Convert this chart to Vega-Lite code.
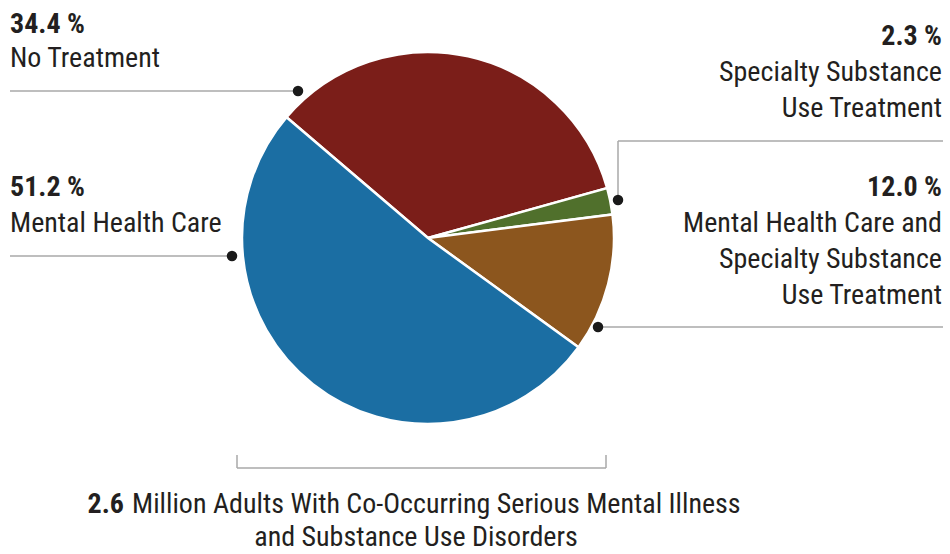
{
  "$schema": "https://vega.github.io/schema/vega-lite/v6.json",
  "width": 950,
  "height": 554,
  "padding": 0,
  "autosize": {"type": "none"},
  "background": "white",
  "data": {"values": [{}]},
  "config": {"view": {"stroke": null}, "text": {"font": "Roboto Condensed, Liberation Sans Narrow, Roboto", "fontSize": 28, "fill": "#231f20"}},
  "layer": [
    {
      "data": {"values": [
        {"category": "No Treatment", "pct": 34.4, "order": 1},
        {"category": "Specialty Substance Use Treatment", "pct": 2.3, "order": 2},
        {"category": "Mental Health Care and Specialty Substance Use Treatment", "pct": 12.0, "order": 3},
        {"category": "Mental Health Care", "pct": 51.2, "order": 4}
      ]},
      "mark": {"type": "arc", "outerRadius": 186, "stroke": "white", "strokeWidth": 2.5},
      "encoding": {
        "x": {"datum": 428, "type": "quantitative", "scale": {"domain": [0, 950], "nice": false, "zero": false}, "axis": null},
        "y": {"datum": 238, "type": "quantitative", "scale": {"domain": [0, 554], "nice": false, "zero": false, "reverse": true}, "axis": null},
        "theta": {"field": "pct", "type": "quantitative", "stack": true, "scale": {"range": [-0.864, 5.419]}},
        "order": {"field": "order", "type": "ordinal"},
        "color": {"field": "category", "type": "nominal", "legend": null,
          "scale": {"domain": ["No Treatment", "Specialty Substance Use Treatment", "Mental Health Care and Specialty Substance Use Treatment", "Mental Health Care"],
                    "range": ["#7b1e19", "#50702c", "#8c561e", "#1b6ea3"]}}
      }
    },
    {"mark": {"type": "rule", "color": "#a8a8a8", "strokeWidth": 1.5}, "encoding": {"x": {"datum": 10}, "x2": {"datum": 298}, "y": {"datum": 91}}},
    {"mark": {"type": "rule", "color": "#a8a8a8", "strokeWidth": 1.5}, "encoding": {"x": {"datum": 10}, "x2": {"datum": 232}, "y": {"datum": 256}}},
    {"mark": {"type": "rule", "color": "#a8a8a8", "strokeWidth": 1.5}, "encoding": {"x": {"datum": 618}, "y": {"datum": 141}, "y2": {"datum": 200}}},
    {"mark": {"type": "rule", "color": "#a8a8a8", "strokeWidth": 1.5}, "encoding": {"x": {"datum": 618}, "x2": {"datum": 943}, "y": {"datum": 141}}},
    {"mark": {"type": "rule", "color": "#a8a8a8", "strokeWidth": 1.5}, "encoding": {"x": {"datum": 598}, "x2": {"datum": 943}, "y": {"datum": 327}}},
    {"mark": {"type": "rule", "color": "#a8a8a8", "strokeWidth": 1.5}, "encoding": {"x": {"datum": 237}, "y": {"datum": 455}, "y2": {"datum": 468}}},
    {"mark": {"type": "rule", "color": "#a8a8a8", "strokeWidth": 1.5}, "encoding": {"x": {"datum": 237}, "x2": {"datum": 606}, "y": {"datum": 468}}},
    {"mark": {"type": "rule", "color": "#a8a8a8", "strokeWidth": 1.5}, "encoding": {"x": {"datum": 606}, "y": {"datum": 455}, "y2": {"datum": 468}}},
    {"mark": {"type": "point", "filled": true, "color": "#1a1a1a", "size": 110, "opacity": 1}, "encoding": {"x": {"datum": 298}, "y": {"datum": 91}}},
    {"mark": {"type": "point", "filled": true, "color": "#1a1a1a", "size": 110, "opacity": 1}, "encoding": {"x": {"datum": 232}, "y": {"datum": 256}}},
    {"mark": {"type": "point", "filled": true, "color": "#1a1a1a", "size": 110, "opacity": 1}, "encoding": {"x": {"datum": 618}, "y": {"datum": 200}}},
    {"mark": {"type": "point", "filled": true, "color": "#1a1a1a", "size": 110, "opacity": 1}, "encoding": {"x": {"datum": 598}, "y": {"datum": 327}}},
    {"mark": {"type": "text", "align": "left", "baseline": "alphabetic", "fontWeight": "bold"}, "encoding": {"x": {"datum": 10}, "y": {"datum": 33}, "text": {"value": "34.4 %"}}},
    {"mark": {"type": "text", "align": "left", "baseline": "alphabetic"}, "encoding": {"x": {"datum": 10}, "y": {"datum": 67}, "text": {"value": "No Treatment"}}},
    {"mark": {"type": "text", "align": "left", "baseline": "alphabetic", "fontWeight": "bold"}, "encoding": {"x": {"datum": 10}, "y": {"datum": 196}, "text": {"value": "51.2 %"}}},
    {"mark": {"type": "text", "align": "left", "baseline": "alphabetic"}, "encoding": {"x": {"datum": 10}, "y": {"datum": 232}, "text": {"value": "Mental Health Care"}}},
    {"mark": {"type": "text", "align": "right", "baseline": "alphabetic", "fontWeight": "bold"}, "encoding": {"x": {"datum": 942}, "y": {"datum": 45}, "text": {"value": "2.3 %"}}},
    {"mark": {"type": "text", "align": "right", "baseline": "alphabetic", "lineHeight": 36}, "encoding": {"x": {"datum": 942}, "y": {"datum": 81}, "text": {"value": ["Specialty Substance", "Use Treatment"]}}},
    {"mark": {"type": "text", "align": "right", "baseline": "alphabetic", "fontWeight": "bold"}, "encoding": {"x": {"datum": 942}, "y": {"datum": 196}, "text": {"value": "12.0 %"}}},
    {"mark": {"type": "text", "align": "right", "baseline": "alphabetic", "lineHeight": 36}, "encoding": {"x": {"datum": 942}, "y": {"datum": 232}, "text": {"value": ["Mental Health Care and", "Specialty Substance", "Use Treatment"]}}},
    {"mark": {"type": "text", "align": "right", "baseline": "alphabetic", "fontWeight": "bold"}, "encoding": {"x": {"datum": 124}, "y": {"datum": 513}, "text": {"value": "2.6"}}},
    {"mark": {"type": "text", "align": "left", "baseline": "alphabetic"}, "encoding": {"x": {"datum": 132}, "y": {"datum": 513}, "text": {"value": "Million Adults With Co-Occurring Serious Mental Illness"}}},
    {"mark": {"type": "text", "align": "center", "baseline": "alphabetic"}, "encoding": {"x": {"datum": 416}, "y": {"datum": 546}, "text": {"value": "and Substance Use Disorders"}}}
  ]
}
